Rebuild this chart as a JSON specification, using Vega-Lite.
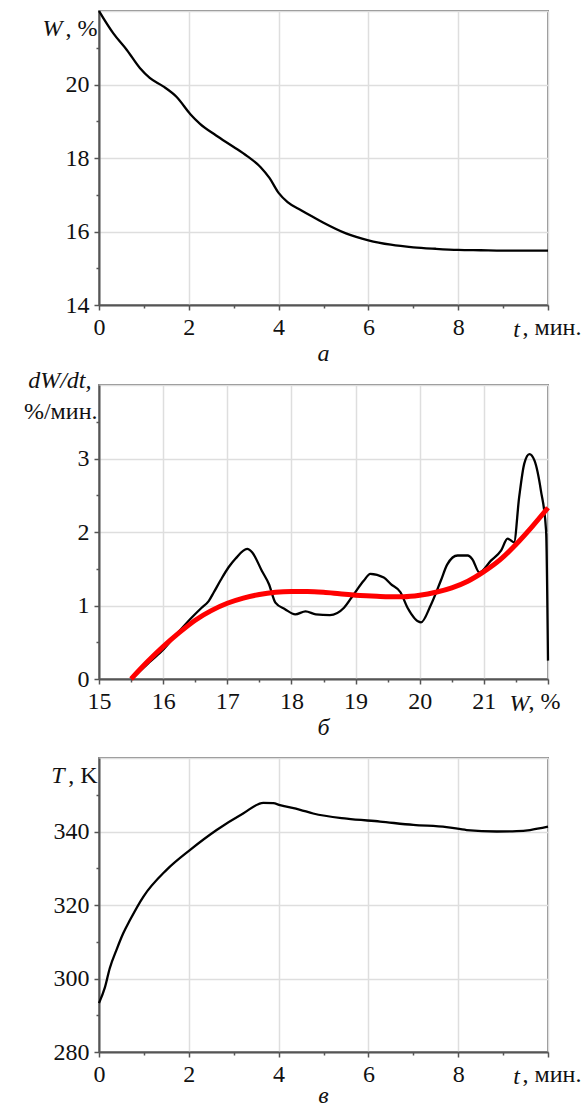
{
  "$schema": "https://vega.github.io/schema/vega-lite/v6.json",
  "padding": {"left": 22, "top": 5, "right": 0, "bottom": 0},
  "spacing": 0,
  "datasets": {
    "moisture": [
      {"t": 0.0, "W": 22.0},
      {"t": 0.1, "W": 21.8},
      {"t": 0.32, "W": 21.39},
      {"t": 0.62, "W": 20.94},
      {"t": 0.91, "W": 20.45},
      {"t": 1.13, "W": 20.18},
      {"t": 1.43, "W": 19.95},
      {"t": 1.73, "W": 19.66},
      {"t": 2.03, "W": 19.2},
      {"t": 2.25, "W": 18.93},
      {"t": 2.6, "W": 18.62},
      {"t": 3.0, "W": 18.3},
      {"t": 3.3, "W": 18.05},
      {"t": 3.6, "W": 17.75},
      {"t": 3.8, "W": 17.45},
      {"t": 4.0, "W": 17.05},
      {"t": 4.2, "W": 16.8},
      {"t": 4.5, "W": 16.58},
      {"t": 4.76, "W": 16.4},
      {"t": 5.0, "W": 16.24},
      {"t": 5.5, "W": 15.95},
      {"t": 6.0, "W": 15.76},
      {"t": 6.5, "W": 15.64},
      {"t": 7.0, "W": 15.57},
      {"t": 7.5, "W": 15.53},
      {"t": 8.0, "W": 15.5},
      {"t": 8.5, "W": 15.49},
      {"t": 9.0, "W": 15.48},
      {"t": 9.5, "W": 15.48},
      {"t": 10.0, "W": 15.48}
    ],
    "rate": [
      {"W": 15.51, "v": 0.0},
      {"W": 15.75, "v": 0.2},
      {"W": 15.98, "v": 0.38},
      {"W": 16.2, "v": 0.6},
      {"W": 16.45, "v": 0.84},
      {"W": 16.6, "v": 0.97},
      {"W": 16.71, "v": 1.06},
      {"W": 16.79, "v": 1.18},
      {"W": 16.9, "v": 1.35},
      {"W": 17.02, "v": 1.52},
      {"W": 17.13, "v": 1.64},
      {"W": 17.31, "v": 1.77},
      {"W": 17.39, "v": 1.72},
      {"W": 17.54, "v": 1.47},
      {"W": 17.65, "v": 1.29},
      {"W": 17.75, "v": 1.04},
      {"W": 17.9, "v": 0.95},
      {"W": 18.06, "v": 0.88},
      {"W": 18.22, "v": 0.92},
      {"W": 18.38, "v": 0.88},
      {"W": 18.6, "v": 0.87},
      {"W": 18.82, "v": 0.97},
      {"W": 18.97, "v": 1.15},
      {"W": 19.13, "v": 1.34},
      {"W": 19.23, "v": 1.43},
      {"W": 19.44, "v": 1.38},
      {"W": 19.55, "v": 1.29},
      {"W": 19.7, "v": 1.18},
      {"W": 19.81, "v": 0.97},
      {"W": 20.02, "v": 0.77},
      {"W": 20.17, "v": 1.0},
      {"W": 20.33, "v": 1.34},
      {"W": 20.43, "v": 1.56},
      {"W": 20.59, "v": 1.68},
      {"W": 20.75, "v": 1.68},
      {"W": 20.82, "v": 1.63},
      {"W": 20.93, "v": 1.45},
      {"W": 21.11, "v": 1.61},
      {"W": 21.27, "v": 1.75},
      {"W": 21.37, "v": 1.91},
      {"W": 21.47, "v": 1.86},
      {"W": 21.55, "v": 2.47},
      {"W": 21.63, "v": 2.93},
      {"W": 21.71, "v": 3.06},
      {"W": 21.79, "v": 2.97},
      {"W": 21.89, "v": 2.56},
      {"W": 21.97, "v": 2.02},
      {"W": 22.0, "v": 0.25}
    ],
    "fit": [
      {"W": 15.5, "v": 0.0},
      {"W": 15.75, "v": 0.23},
      {"W": 16.0, "v": 0.44},
      {"W": 16.25, "v": 0.63},
      {"W": 16.5, "v": 0.8},
      {"W": 16.75, "v": 0.93},
      {"W": 17.0, "v": 1.03},
      {"W": 17.25, "v": 1.1},
      {"W": 17.5, "v": 1.15},
      {"W": 17.75, "v": 1.18},
      {"W": 18.0, "v": 1.19},
      {"W": 18.25, "v": 1.19},
      {"W": 18.5, "v": 1.18},
      {"W": 18.75, "v": 1.16},
      {"W": 19.0, "v": 1.14},
      {"W": 19.25, "v": 1.13},
      {"W": 19.5, "v": 1.12},
      {"W": 19.75, "v": 1.12},
      {"W": 20.0, "v": 1.14},
      {"W": 20.25, "v": 1.18},
      {"W": 20.5, "v": 1.24},
      {"W": 20.75, "v": 1.33},
      {"W": 21.0, "v": 1.46},
      {"W": 21.25, "v": 1.62},
      {"W": 21.5, "v": 1.83},
      {"W": 21.75, "v": 2.07},
      {"W": 22.0, "v": 2.33}
    ],
    "temperature": [
      {"t": 0.0, "T": 293.3},
      {"t": 0.13, "T": 297.5},
      {"t": 0.24, "T": 302.8},
      {"t": 0.39, "T": 307.8},
      {"t": 0.54, "T": 312.3},
      {"t": 0.69, "T": 315.9},
      {"t": 0.99, "T": 322.3},
      {"t": 1.5, "T": 329.5},
      {"t": 2.03, "T": 335.0},
      {"t": 2.62, "T": 340.4},
      {"t": 3.21, "T": 344.9},
      {"t": 3.66, "T": 347.8},
      {"t": 3.88, "T": 347.7},
      {"t": 4.03, "T": 347.2},
      {"t": 4.48, "T": 345.9},
      {"t": 4.77, "T": 344.9},
      {"t": 5.52, "T": 343.5},
      {"t": 6.26, "T": 342.7},
      {"t": 7.0, "T": 341.8},
      {"t": 7.74, "T": 341.2},
      {"t": 8.19, "T": 340.4},
      {"t": 8.86, "T": 340.0},
      {"t": 9.3, "T": 340.1},
      {"t": 9.6, "T": 340.4},
      {"t": 10.0, "T": 341.3}
    ]
  },
  "vconcat": [
    {
      "width": 449,
      "height": 294,
      "title": {"text": "а"},
      "data": {"name": "moisture"},
      "mark": {"type": "line"},
      "encoding": {
        "x": {
          "field": "t", "type": "quantitative",
          "scale": {"domain": [0, 10], "nice": false, "zero": false},
          "axis": {
            "values": [0, 1, 2, 3, 4, 5, 6, 7, 8, 9, 10],
            "labelExpr": "datum.value == 10 ? ', мин.' : (datum.value % 2 ? '' : datum.label)",
            "labelAlign": {"condition": {"test": "datum.value == 10", "value": "left"}, "value": "center"},
            "labelOffset": {"condition": {"test": "datum.value == 10", "value": -26}, "value": 0},
            "tickSize": {"condition": {"test": "datum.value % 2 == 1", "value": 3}, "value": 5},
            "gridOpacity": {"condition": {"test": "datum.value % 2 == 1", "value": 0}, "value": 1},
            "title": "t", "titleX": 417, "titleY": 24, "titleAlign": "center", "titleBaseline": "middle", "titleAngle": 0
          }
        },
        "y": {
          "field": "W", "type": "quantitative",
          "scale": {"domain": [14, 22], "nice": false, "zero": false},
          "axis": {
            "values": [14, 15, 16, 17, 18, 19, 20, 21, 22],
            "labelExpr": "datum.value == 22 ? ', %' : (datum.value % 2 ? '' : datum.label)",
            "labelOffset": {"condition": {"test": "datum.value == 22", "value": 17}, "value": 0},
            "labelPadding": {"condition": {"test": "datum.value == 22", "value": 2}, "value": 5},
            "tickSize": {"condition": [{"test": "datum.value == 22", "value": 0}, {"test": "datum.value % 2 == 1", "value": 3}], "value": 5},
            "gridOpacity": {"condition": {"test": "datum.value % 2 == 1", "value": 0}, "value": 1},
            "title": "W", "titleX": -37, "titleY": 17, "titleAlign": "right", "titleBaseline": "middle", "titleAngle": 0
          }
        }
      }
    },
    {
      "spacing": 15,
      "vconcat": [
        {
          "width": 449,
          "height": 294,
          "title": {"text": "б"},
          "encoding": {
            "x": {
              "field": "W", "type": "quantitative",
              "scale": {"domain": [15, 22], "nice": false, "zero": false},
              "axis": {
                "values": [15, 15.5, 16, 16.5, 17, 17.5, 18, 18.5, 19, 19.5, 20, 20.5, 21, 21.5, 22],
                "labelExpr": "datum.value == 22 ? ', %' : (datum.value % 1 ? '' : format(datum.value, 'd'))",
                "labelAlign": {"condition": {"test": "datum.value == 22", "value": "left"}, "value": "center"},
                "labelOffset": {"condition": {"test": "datum.value == 22", "value": -20}, "value": 0},
                "tickSize": {"condition": {"test": "datum.value % 1 != 0", "value": 3}, "value": 5},
                "gridOpacity": {"condition": {"test": "datum.value % 1 != 0", "value": 0}, "value": 1},
                "title": "W", "titleX": 420, "titleY": 24, "titleAlign": "center", "titleBaseline": "middle", "titleAngle": 0
              }
            },
            "y": {
              "field": "v", "type": "quantitative",
              "scale": {"domain": [0, 4], "nice": false, "zero": false},
              "axis": {
                "values": [0, 0.5, 1, 1.5, 2, 2.5, 3, 3.5, 4],
                "labelExpr": "datum.value == 4 ? '%/мин.' : (datum.value % 1 ? '' : format(datum.value, 'd'))",
                "labelOffset": {"condition": {"test": "datum.value == 4", "value": 26}, "value": 0},
                "labelPadding": {"condition": {"test": "datum.value == 4", "value": 2}, "value": 5},
                "tickSize": {"condition": [{"test": "datum.value == 4", "value": 0}, {"test": "datum.value % 1 != 0", "value": 3}], "value": 5},
                "gridOpacity": {"condition": {"test": "datum.value % 1 != 0", "value": 0}, "value": 1},
                "title": "dW/dt,", "titleX": -8, "titleY": -5, "titleAlign": "right", "titleBaseline": "middle", "titleAngle": 0
              }
            }
          },
          "layer": [
            {"data": {"name": "rate"}, "mark": {"type": "line"}},
            {"data": {"name": "fit"}, "mark": {"type": "line", "color": "#ff0000", "strokeWidth": 5}}
          ]
        },
        {
          "width": 449,
          "height": 294,
          "title": {"text": "в", "offset": -4},
          "data": {"name": "temperature"},
          "mark": {"type": "line"},
          "encoding": {
            "x": {
              "field": "t", "type": "quantitative",
              "scale": {"domain": [0, 10], "nice": false, "zero": false},
              "axis": {
                "values": [0, 1, 2, 3, 4, 5, 6, 7, 8, 9, 10],
                "labelExpr": "datum.value == 10 ? ', мин.' : (datum.value % 2 ? '' : datum.label)",
                "labelAlign": {"condition": {"test": "datum.value == 10", "value": "left"}, "value": "center"},
                "labelOffset": {"condition": {"test": "datum.value == 10", "value": -26}, "value": 0},
                "tickSize": {"condition": {"test": "datum.value % 2 == 1", "value": 3}, "value": 5},
                "gridOpacity": {"condition": {"test": "datum.value % 2 == 1", "value": 0}, "value": 1},
                "title": "t", "titleX": 417, "titleY": 24, "titleAlign": "center", "titleBaseline": "middle", "titleAngle": 0
              }
            },
            "y": {
              "field": "T", "type": "quantitative",
              "scale": {"domain": [280, 360], "nice": false, "zero": false},
              "axis": {
                "values": [280, 290, 300, 310, 320, 330, 340, 350, 360],
                "labelExpr": "datum.value == 360 ? ', K' : (datum.value % 20 ? '' : datum.label)",
                "labelOffset": {"condition": {"test": "datum.value == 360", "value": 17}, "value": 0},
                "labelPadding": {"condition": {"test": "datum.value == 360", "value": 2}, "value": 5},
                "tickSize": {"condition": [{"test": "datum.value == 360", "value": 0}, {"test": "datum.value % 20 != 0", "value": 3}], "value": 5},
                "gridOpacity": {"condition": {"test": "datum.value % 20 != 0", "value": 0}, "value": 1},
                "title": "T", "titleX": -35, "titleY": 17, "titleAlign": "right", "titleBaseline": "middle", "titleAngle": 0
              }
            }
          }
        }
      ]
    }
  ],
  "config": {
    "font": "Liberation Serif",
    "view": {"stroke": "#8a8a8a", "strokeWidth": 2},
    "axis": {
      "labelFont": "Liberation Serif", "labelFontSize": 24, "labelColor": "#111", "labelPadding": 5,
      "labelFlush": false, "labelOverlap": false, "labelFontStyle": "normal",
      "titleFont": "Liberation Serif", "titleFontSize": 24, "titleFontWeight": "normal", "titleFontStyle": "italic", "titleColor": "#111",
      "domainColor": "#555", "domainWidth": 2, "tickColor": "#555", "tickWidth": 1.5,
      "gridColor": "#dedede", "gridWidth": 1.5
    },
    "title": {"font": "Liberation Serif", "fontSize": 24, "fontStyle": "italic", "fontWeight": "normal", "orient": "bottom", "anchor": "middle", "color": "#111", "offset": 1},
    "line": {"color": "black", "strokeWidth": 2.3, "interpolate": "monotone"}
  }
}
